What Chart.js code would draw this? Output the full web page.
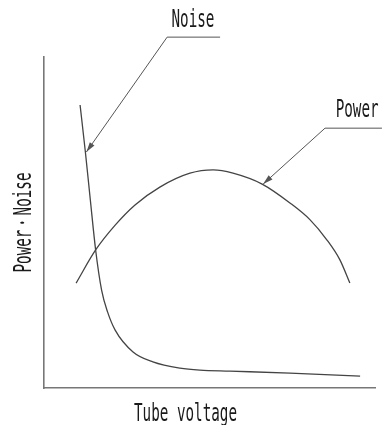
<!DOCTYPE html>
<html>
<head>
<meta charset="utf-8">
<script src="https://cdn.jsdelivr.net/npm/chart.js@4"></script>
<style>
html,body{margin:0;padding:0;background:#fff;}
#wrap{width:382px;height:425px;position:relative;}
</style>
</head>
<body>
<div id="wrap"><canvas id="c" width="382" height="425"></canvas></div>
<script>
// Data (arbitrary units, 0..100 on both axes)
const noiseX = [10.9, 12.5, 14.0, 15.6, 17.4, 19.2, 21.5, 26.9, 32.9, 41.1, 47.1, 56.2, 74.3, 95.5];
const noiseY = [85.5, 71.3, 56.8, 41.7, 29.6, 23.0, 17.5, 10.9, 7.9, 6.0, 5.4, 5.1, 4.5, 3.6];
const powerX = [9.7, 15.6, 21.5, 27.5, 35.0, 44.1, 51.1, 57.1, 65.9, 74.3, 80.4, 85.5, 89.4, 92.4];
const powerY = [31.7, 41.7, 49.2, 55.3, 60.7, 64.9, 65.9, 64.9, 61.6, 55.9, 50.8, 44.7, 38.7, 31.7];
const seriesNames = ["Noise", "Power"];
const xTitle = "Tube voltage";
const yTitle = "Power・Noise";
// Callouts: label anchor, leader elbow, horizontal end, arrow tip index on the curve
const noiseLabel = {text: "Noise", x: 45.0, y: 109.1, elbowX: 37.2, elbowY: 106.0, endX: 53.2, tip: 1};
const powerLabel = {text: "Power", x: 94.6, y: 81.9, elbowX: 84.9, elbowY: 78.5, endX: 102.1, tip: 8};

const toPts = (xs, ys) => xs.map((x, i) => ({x, y: ys[i]}));

const FONT = '25px "DejaVu Sans Mono"';
const HSCALE = 0.57;
function drawText(ctx, text, x, y, rot) {
  ctx.save();
  ctx.translate(x, y);
  if (rot) ctx.rotate(rot);
  ctx.scale(HSCALE, 1);
  ctx.font = FONT;
  ctx.fillStyle = '#1a1a1a';
  ctx.textAlign = 'center';
  ctx.textBaseline = 'alphabetic';
  ctx.fillText(text, 0, 0);
  ctx.restore();
}
function arrow(ctx, x0, y0, x1, y1) {
  const a = Math.atan2(y1 - y0, x1 - x0);
  const L = 10, W = 2.8;
  ctx.beginPath();
  ctx.moveTo(x1, y1);
  ctx.lineTo(x1 - L * Math.cos(a) + W * Math.sin(a), y1 - L * Math.sin(a) - W * Math.cos(a));
  ctx.lineTo(x1 - L * Math.cos(a) - W * Math.sin(a), y1 - L * Math.sin(a) + W * Math.cos(a));
  ctx.closePath();
  ctx.fill();
}

const annot = {
  id: 'annot',
  afterDraw(chart) {
    const ctx = chart.ctx, xs = chart.scales.x, ys = chart.scales.y;
    const ca = chart.chartArea;
    const callouts = [[noiseLabel, noiseX, noiseY], [powerLabel, powerX, powerY]];
    ctx.save();
    ctx.strokeStyle = '#555';
    ctx.fillStyle = '#555';
    ctx.lineWidth = 1;
    for (const [lab, cx, cy] of callouts) {
      const ex = xs.getPixelForValue(lab.elbowX), ey = ys.getPixelForValue(lab.elbowY);
      const hx = xs.getPixelForValue(lab.endX);
      const tx = xs.getPixelForValue(cx[lab.tip]) + 1, ty = ys.getPixelForValue(cy[lab.tip]);
      ctx.beginPath();
      ctx.moveTo(hx, ey);
      ctx.lineTo(ex, ey);
      ctx.lineTo(tx, ty);
      ctx.stroke();
      arrow(ctx, ex, ey, tx, ty);
      drawText(ctx, lab.text, xs.getPixelForValue(lab.x), ys.getPixelForValue(lab.y), 0);
    }
    drawText(ctx, xTitle, (ca.left + ca.right) / 2 - 24, ca.bottom + 33, 0);
    drawText(ctx, yTitle, ca.left - 13, (ca.top + ca.bottom) / 2, -Math.PI / 2);
    ctx.restore();
  }
};

new Chart(document.getElementById('c'), {
  type: 'scatter',
  data: {
    datasets: [
      {label: seriesNames[0], data: toPts(noiseX, noiseY), showLine: true, borderColor: '#444', borderWidth: 1.3, pointRadius: 0, cubicInterpolationMode: 'monotone', fill: false},
      {label: seriesNames[1], data: toPts(powerX, powerY), showLine: true, borderColor: '#444', borderWidth: 1.3, pointRadius: 0, cubicInterpolationMode: 'monotone', fill: false}
    ]
  },
  options: {
    responsive: false,
    animation: false,
    devicePixelRatio: 1,
    layout: {padding: {left: 44, right: 7, top: 57, bottom: 37}},
    plugins: {legend: {display: false}, tooltip: {enabled: false}},
    scales: {
      x: {type: 'linear', min: 0, max: 100, ticks: {display: false}, grid: {display: false},
          border: {display: true, color: '#777', width: 1.6}, afterFit(s) { s.height = 0; }},
      y: {type: 'linear', min: 0, max: 100, ticks: {display: false}, grid: {display: false},
          border: {display: true, color: '#777', width: 1.6}, afterFit(s) { s.width = 0; }}
    }
  },
  plugins: [annot]
});
</script>
</body>
</html>
